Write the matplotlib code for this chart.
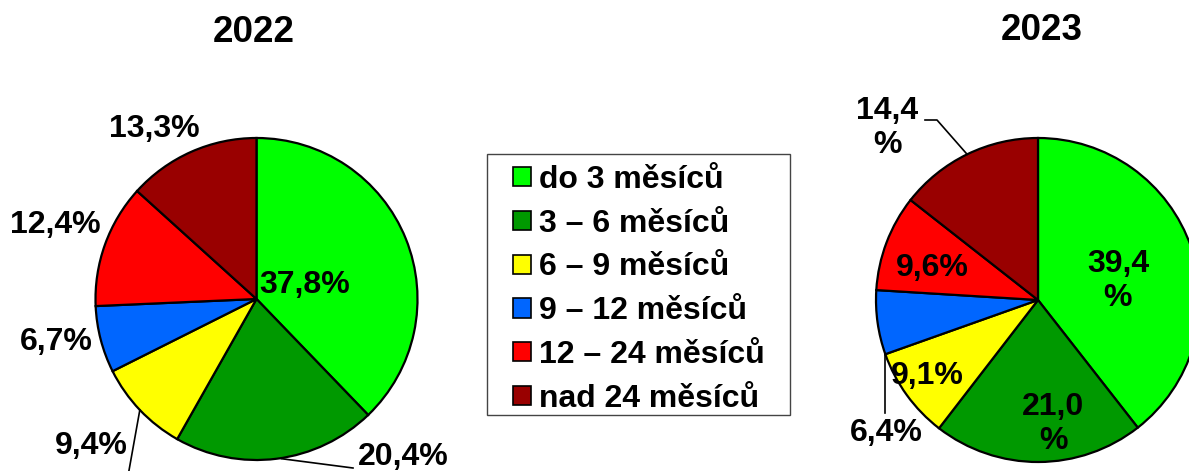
import matplotlib
matplotlib.use('Agg')
import matplotlib.pyplot as plt
from matplotlib.patches import Rectangle
import numpy as np

categories = ['do 3 měsíců', '3 – 6 měsíců', '6 – 9 měsíců', '9 – 12 měsíců',
              '12 – 24 měsíců', 'nad 24 měsíců']
values_2022 = [37.8, 20.4, 9.4, 6.7, 12.4, 13.3]
values_2023 = [39.4, 21.0, 9.1, 6.4, 9.6, 14.4]
labels_2022 = ['37,8%', '20,4%', '9,4%', '6,7%', '12,4%', '13,3%']
labels_2023 = ['39,4\n%', '21,0\n%', '9,1%', '6,4%', '9,6%', '14,4\n%']
years = ['2022', '2023']
colors = ['#00FF00', '#009900', '#FFFF00', '#0066FF', '#FF0000', '#990000']

W, H = 1189, 471
FONT = 'Liberation Sans'
FS = 23
fig = plt.figure(figsize=(W / 100, H / 100), dpi=100)
ax = fig.add_axes([0, 0, 1, 1])


def Y(y):
    return H - y


def angle_at(vals, frac_index, half=True):
    tot = sum(vals)
    cum = sum(vals[:frac_index])
    if half:
        cum += vals[frac_index] / 2
    return np.deg2rad(90 - 360 * cum / tot)


def edge_point(center, r, ang):
    return center[0] + r * np.cos(ang), center[1] + r * np.sin(ang)


pies = [
    dict(vals=values_2022, labels=labels_2022, center=(256.5, Y(299)), r=161,
         title_xy=(254, Y(32)),
         label_xy=[(305, 285), (403, 457), (91, 446), (56, 342), (55, 225), (154, 129)]),
    dict(vals=values_2023, labels=labels_2023, center=(1038, Y(300)), r=162,
         title_xy=(1042, Y(31)),
         label_xy=[(1118, 281), (1053, 424), (927, 376), (886, 433), (932, 268), (887, 128)]),
]

wedges_all = None
for p, yr in zip(pies, years):
    wedges, _ = ax.pie(p['vals'], colors=colors, startangle=90, counterclock=False,
                       center=p['center'], radius=p['r'],
                       wedgeprops=dict(edgecolor='black', linewidth=1.6))
    if wedges_all is None:
        wedges_all = wedges
    for lab, (lx, ly) in zip(p['labels'], p['label_xy']):
        ax.text(lx, Y(ly), lab, ha='center', va='center', fontsize=FS,
                fontweight='bold', family=FONT, linespacing=1.2)
    ax.text(p['title_xy'][0], p['title_xy'][1], yr, ha='center', va='center',
            fontsize=26.5, fontweight='bold', family=FONT)

lw = 1.2
# 2022 leaders
p = pies[0]
x0, y0 = edge_point(p['center'], p['r'], angle_at(p['vals'], 1))
ax.plot([x0 + 5, 353], [y0, Y(468)], color='black', lw=lw)
x0, y0 = edge_point(p['center'], p['r'], angle_at(p['vals'], 2))
ax.plot([x0, 128], [y0, Y(476)], color='black', lw=lw)
# 2023 leaders
p = pies[1]
x0, y0 = edge_point(p['center'], p['r'], angle_at(p['vals'], 5))
ax.plot([x0, 937, 925], [y0, Y(120), Y(120)], color='black', lw=lw)
x0, y0 = edge_point(p['center'], p['r'], angle_at(p['vals'], 3, half=False))
ax.plot([x0, x0], [y0, Y(413)], color='black', lw=lw)

ax.set_xlim(0, W)
ax.set_ylim(0, H)
ax.set_aspect('equal')
ax.axis('off')

# legend frame
fig.patches.append(Rectangle((487 / W, 1 - 415 / H), (790 - 487) / W, (415 - 154) / H,
                             transform=fig.transFigure, facecolor='white',
                             edgecolor='#444444', linewidth=1.0, zorder=0))

leg = fig.legend(wedges_all, categories, loc='upper left',
                 bbox_to_anchor=(513 / W, 1 - 165 / H),
                 prop=dict(family=FONT, weight='bold', size=FS),
                 frameon=False,
                 handlelength=0.55, handleheight=0.55, handletextpad=0.25,
                 labelspacing=0.43, borderpad=0, borderaxespad=0)
for h in leg.legend_handles:
    h.set_linewidth(1.2)

fig.savefig('out.png', dpi=100, facecolor='white')
